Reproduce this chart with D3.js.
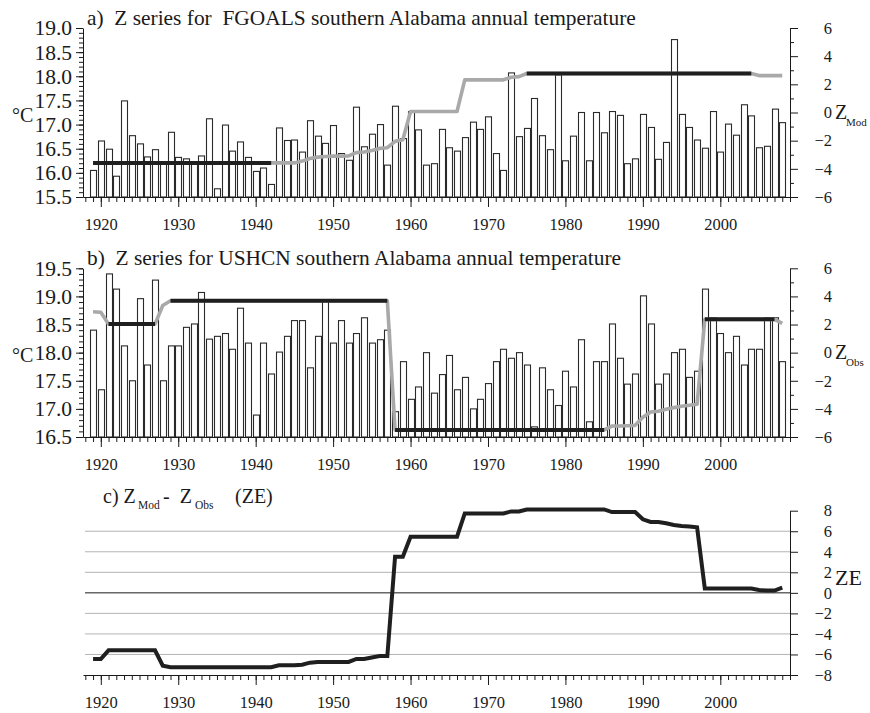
<!DOCTYPE html>
<html><head><meta charset="utf-8">
<script src="https://cdn.jsdelivr.net/npm/d3@7"></script>
<style>
body{margin:0;background:#fff;}
svg text{font-family:"Liberation Serif","Tinos","Nimbus Roman","Times New Roman","DejaVu Serif",serif !important;fill:#1a1a1a;white-space:pre;}
</style></head><body>
<svg id="c" width="870" height="713"></svg>
<script>
const years = d3.range(1919, 2009);
const fgoalsTemp = [16.05,16.66,16.49,15.93,17.49,16.77,16.60,16.33,16.48,16.18,
16.84,16.32,16.29,16.20,16.35,17.12,15.67,16.99,16.45,16.64,
16.32,16.03,16.10,15.76,16.93,16.67,16.68,16.43,17.08,16.76,
16.61,16.98,16.40,16.26,17.36,16.54,16.80,17.00,16.16,17.38,
16.71,17.27,16.89,16.16,16.19,16.90,16.52,16.45,16.73,17.05,
16.90,17.16,16.40,16.05,18.07,16.75,16.92,17.54,16.77,16.48,
18.03,16.25,16.76,17.25,16.25,17.25,16.83,17.27,17.19,16.19,
16.29,17.21,16.94,16.28,16.63,18.76,17.21,16.94,16.68,16.51,
17.27,16.43,17.01,16.78,17.41,17.18,16.52,16.55,17.32,17.04];
const zMod = [-3.58,-3.58,-3.58,-3.58,-3.58,-3.58,-3.58,-3.58,-3.58,-3.58,
-3.58,-3.58,-3.58,-3.58,-3.58,-3.58,-3.58,-3.58,-3.58,-3.58,
-3.58,-3.58,-3.58,-3.58,-3.58,-3.58,-3.58,-3.45,-3.27,-3.17,
-3.12,-3.10,-3.10,-3.08,-2.85,-2.80,-2.70,-2.55,-2.50,-2.05,
-1.93,0.07,0.07,0.07,0.07,0.07,0.07,0.07,2.32,2.32,
2.32,2.32,2.32,2.32,2.50,2.55,2.77,2.77,2.77,2.77,
2.77,2.77,2.77,2.77,2.77,2.77,2.77,2.77,2.77,2.77,
2.77,2.77,2.77,2.77,2.77,2.77,2.77,2.77,2.77,2.77,
2.77,2.77,2.77,2.77,2.77,2.77,2.62,2.62,2.62,2.62];
const ushcnTemp = [18.40,17.34,19.40,19.13,18.12,17.50,18.96,17.78,19.29,17.50,
18.12,18.12,18.45,18.51,19.07,18.24,18.29,18.34,18.06,18.79,
18.17,16.89,18.17,17.62,18.01,18.29,18.57,18.57,17.73,18.29,
18.93,18.17,18.57,18.17,18.34,18.62,18.17,18.23,18.40,16.95,
17.84,17.17,17.39,18.00,17.28,17.61,17.95,17.34,17.56,17.00,
17.17,17.45,17.84,18.06,17.90,18.00,17.78,16.68,17.73,17.34,
17.06,17.67,17.39,18.23,16.77,17.84,17.84,18.51,17.90,17.44,
17.62,19.01,18.51,17.44,17.62,18.00,18.06,17.56,17.67,19.13,
18.62,18.34,18.00,18.29,17.78,18.06,18.06,18.62,18.62,17.84];
const zObs = [2.91,2.87,2.03,2.03,2.03,2.03,2.03,2.03,2.03,3.35,
3.69,3.69,3.69,3.69,3.69,3.69,3.69,3.69,3.69,3.69,
3.69,3.69,3.69,3.69,3.69,3.69,3.69,3.69,3.69,3.69,
3.69,3.69,3.69,3.69,3.69,3.69,3.69,3.69,3.69,-5.50,
-5.50,-5.50,-5.50,-5.50,-5.50,-5.50,-5.50,-5.50,-5.50,-5.50,
-5.50,-5.50,-5.50,-5.50,-5.50,-5.50,-5.50,-5.50,-5.50,-5.50,
-5.50,-5.50,-5.50,-5.50,-5.50,-5.50,-5.50,-5.22,-5.22,-5.20,
-5.17,-4.60,-4.22,-4.17,-4.03,-3.91,-3.81,-3.74,-3.67,2.37,
2.37,2.37,2.37,2.37,2.37,2.37,2.37,2.37,2.37,2.08];
const zeSeries = [-6.44,-6.44,-5.60,-5.60,-5.60,-5.60,-5.60,-5.60,-5.60,-7.09,
-7.25,-7.25,-7.25,-7.25,-7.25,-7.25,-7.25,-7.25,-7.25,-7.25,
-7.25,-7.25,-7.25,-7.25,-7.06,-7.06,-7.06,-7.00,-6.80,-6.73,
-6.73,-6.73,-6.73,-6.73,-6.44,-6.44,-6.30,-6.16,-6.16,3.52,
3.52,5.47,5.47,5.47,5.47,5.47,5.47,5.47,7.73,7.73,
7.73,7.73,7.73,7.73,7.93,7.93,8.12,8.12,8.12,8.12,
8.12,8.12,8.12,8.12,8.12,8.12,8.12,7.87,7.87,7.87,
7.87,7.16,6.90,6.90,6.77,6.60,6.50,6.45,6.38,0.43,
0.43,0.43,0.43,0.43,0.43,0.43,0.27,0.22,0.22,0.50];
const segMod = [{from:1919,to:1942,z:-3.58},{from:1975,to:2004,z:2.77}];
const segObs = [{from:1921,to:1927,z:2.03},{from:1929,to:1957,z:3.69},{from:1958,to:1985,z:-5.50},{from:1998,to:2007,z:2.37}];
const tempTicksA = [15.5,16.0,16.5,17.0,17.5,18.0,18.5,19.0];
const tempTicksB = [16.5,17.0,17.5,18.0,18.5,19.0,19.5];
const zTicks = [-6,-4,-2,0,2,4,6];
const zMinor = [-5,-3,-1,1,3,5];
const zeTicks = [-8,-6,-4,-2,0,2,4,6,8];
const zeGrid = [-6,-4,-2,2,4,6];
const decadeTicks = [1920,1930,1940,1950,1960,1970,1980,1990,2000];

const FONT = '"Liberation Serif","Tinos","Nimbus Roman","Times New Roman","DejaVu Serif",serif';
const svg = d3.select('#c');
svg.append('rect').attr('width',870).attr('height',713).attr('fill','#fff');
const X0 = 83, X1 = 790;
const x = d3.scaleLinear().domain([1917.7, 2009]).range([X0, X1]);
const barW = 6;
const AX = '#1a1a1a';

function styleAxis(g){
  g.attr('font-family', FONT);
  g.selectAll('path,line').attr('stroke',AX).attr('stroke-width',1);
  g.selectAll('text').attr('fill','#1a1a1a').attr('font-family',FONT);
}

function yearAxis(bottom){
  const gm = svg.append('g').attr('transform',`translate(0,${bottom})`)
    .call(d3.axisBottom(x).tickValues(d3.range(1918, 2010)).tickSize(5).tickSizeOuter(0).tickFormat(''));
  styleAxis(gm);
  const gM = svg.append('g').attr('transform',`translate(0,${bottom})`)
    .call(d3.axisBottom(x).tickValues(decadeTicks).tickSize(10).tickPadding(11).tickFormat(d3.format('d')));
  gM.select('.domain').remove();
  styleAxis(gM);
  gM.selectAll('text').attr('font-size',16.5);
}

function addText(x0, y0, size, str){
  return svg.append('text').attr('x',x0).attr('y',y0).attr('font-size',size).attr('font-family',FONT).text(str);
}

function barPanel(o){
  const yT = d3.scaleLinear().domain(o.tempDomain).range([o.bottom, o.top]);
  const yZ = d3.scaleLinear().domain([-6,6]).range([o.bottom, o.top]);
  const g = svg.append('g');
  g.selectAll('rect.bar').data(years.map((yr,i)=>({yr, v:o.temps[i]}))).join('rect')
    .attr('class','bar')
    .attr('x', d=>Math.round(x(d.yr)-barW/2)+0.5).attr('width', barW)
    .attr('y', d=>yT(d.v)).attr('height', d=>o.bottom - yT(d.v))
    .attr('fill','#fff').attr('stroke','#2a2a2a').attr('stroke-width',1.1);
  g.append('path').datum(years.map((yr,i)=>[yr, o.zs[i]]))
    .attr('d', d3.line().x(d=>x(d[0])).y(d=>yZ(d[1])))
    .attr('fill','none').attr('stroke','#a9a9a9').attr('stroke-width',3.6).attr('stroke-linejoin','round');
  g.selectAll('line.seg').data(o.segs).join('line').attr('class','seg')
    .attr('x1',d=>x(d.from)).attr('x2',d=>x(d.to))
    .attr('y1',d=>yZ(d.z)).attr('y2',d=>yZ(d.z))
    .attr('stroke','#1f1f1f').attr('stroke-width',4);

  const minor = d3.ticks(o.tempDomain[0], o.tempDomain[1], Math.round((o.tempDomain[1]-o.tempDomain[0])*10));
  const gl1 = svg.append('g').attr('transform',`translate(${X0},0)`)
    .call(d3.axisLeft(yT).tickValues(minor).tickSize(4).tickSizeOuter(0).tickFormat(''));
  styleAxis(gl1);
  const gl2 = svg.append('g').attr('transform',`translate(${X0},0)`)
    .call(d3.axisLeft(yT).tickValues(o.tempTicks).tickSize(7).tickPadding(4).tickFormat(d3.format('.1f')));
  gl2.select('.domain').remove();
  styleAxis(gl2);
  gl2.selectAll('text').attr('font-size',21.5);

  const gr1 = svg.append('g').attr('transform',`translate(${X1},0)`)
    .call(d3.axisRight(yZ).tickValues(zMinor).tickSize(4).tickSizeOuter(0).tickFormat(''));
  styleAxis(gr1);
  const gr2 = svg.append('g').attr('transform',`translate(${X1},0)`)
    .call(d3.axisRight(yZ).tickValues(zTicks).tickSize(8).tickFormat(d3.format('d')));
  gr2.select('.domain').remove();
  styleAxis(gr2);
  gr2.selectAll('text').attr('font-size',16.5).attr('text-anchor','end').attr('x',42);

  yearAxis(o.bottom);

  addText(87, o.titleY, 21.4, o.title);
  addText(12, o.cY, 20, '°C');
  addText(835, yZ(0)+6.5, 20, 'Z');
  addText(846, yZ(0)+13, 11, o.sub);
}

barPanel({top:28, bottom:197, tempDomain:[15.5,19.0], temps:fgoalsTemp, zs:zMod, segs:segMod,
  tempTicks:tempTicksA, title:'a)  Z series for  FGOALS southern Alabama annual temperature', titleY:25, cY:122, sub:'Mod'});
barPanel({top:268.3, bottom:437, tempDomain:[16.5,19.5], temps:ushcnTemp, zs:zObs, segs:segObs,
  tempTicks:tempTicksB, title:'b)  Z series for USHCN southern Alabama annual temperature', titleY:265, cY:362, sub:'Obs'});

const cTop = 510.7, cBot = 675;
const yE = d3.scaleLinear().domain([-8,8]).range([cBot, cTop]);
svg.append('g').selectAll('line').data(zeGrid).join('line')
  .attr('x1',85).attr('x2',X1).attr('y1',d=>yE(d)).attr('y2',d=>yE(d))
  .attr('stroke','#b4b4b4').attr('stroke-width',1);
svg.append('line').attr('x1',85).attr('x2',X1).attr('y1',yE(0)).attr('y2',yE(0)).attr('stroke','#1a1a1a').attr('stroke-width',1);
svg.append('path').datum(years.map((yr,i)=>[yr, zeSeries[i]]))
  .attr('d', d3.line().x(d=>x(d[0])).y(d=>yE(d[1])))
  .attr('fill','none').attr('stroke','#1f1f1f').attr('stroke-width',4).attr('stroke-linejoin','miter');
const ge = svg.append('g').attr('transform',`translate(${X1},0)`)
  .call(d3.axisRight(yE).tickValues(zeTicks).tickSize(8).tickSizeOuter(0).tickFormat(d3.format('d')));
styleAxis(ge);
ge.selectAll('text').attr('font-size',16.5).attr('text-anchor','end').attr('x',42);
yearAxis(cBot);
addText(835, 585, 22, 'ZE');
addText(103, 503, 20, 'c) Z');
addText(138, 509, 11.5, 'Mod');
addText(163, 503, 20, '-  Z');
addText(195, 509, 11.5, 'Obs');
addText(235, 503, 20, '(ZE)');
</script></body></html>
